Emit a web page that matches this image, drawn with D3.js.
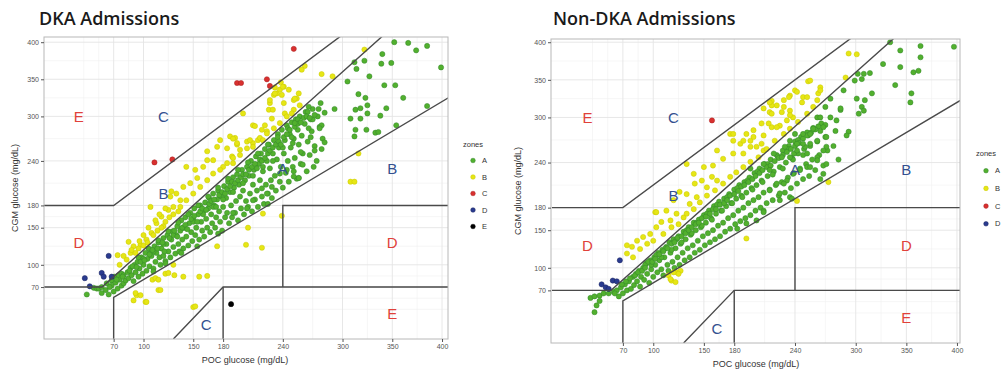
<!DOCTYPE html>
<html>
<head>
<meta charset="utf-8">
<script src="https://cdn.jsdelivr.net/npm/d3@7"></script>
<style>
body { margin: 0; background: #fff; }
svg { display: block; font-family: "Liberation Sans", Arial, sans-serif; }
</style>
</head>
<body>
<svg id="chart" width="1001" height="371"></svg>
<script>

// axis breaks (mg/dL), same for both panels
var tickVals = [70, 100, 150, 180, 240, 300, 350, 400];
var minorVals = [40, 55, 85, 125, 165, 210, 270, 325, 375];

var zoneNames = ["A", "B", "C", "D", "E"];
var zoneColors = {A: "#52b02e", B: "#e6e615", C: "#d8302f", D: "#2a3b8f", E: "#000000"};
var zoneStroke = {A: "#33862a", B: "#c8c800", C: "#a82020", D: "#1a2560", E: "#000000"};

// Clarke error grid boundaries [POC, CGM]
var gridLines = [
    [[0, 180], [70, 180], [310, 420]],
    [[0, 70], [58.3, 70], [350, 420]],
    [[70, 0], [70, 56], [420, 336]],
    [[130, 0], [180, 70], [420, 70]],
    [[180, 0], [180, 70]],
    [[240, 70], [240, 180], [420, 180]]
];

var zoneLabels = [
    {t: "E", x: 35, y: 300, c: "#e0413a"},
    {t: "C", x: 120, y: 300, c: "#34508f"},
    {t: "B", x: 120, y: 196, c: "#34508f"},
    {t: "A", x: 240, y: 230, c: "#34508f"},
    {t: "B", x: 350, y: 230, c: "#34508f"},
    {t: "D", x: 35, y: 130, c: "#e0413a"},
    {t: "D", x: 350, y: 130, c: "#e0413a"},
    {t: "E", x: 350, y: 34, c: "#e0413a"},
    {t: "C", x: 163, y: 19, c: "#34508f"}
];

// ---------- DKA admissions ----------
var dkaA = [
    [43,60],[50,69],[53,68],[55,68],[58,70],[63,75],[68,79],[71,84],[75,86],[78,88],
    [58,62],[62,66],[65,60],[68,72],[70,64],[72,76],[74,68],[76,80],[78,72],[80,86],[80,75],[82,79],
    [84,90],[85,82],[87,96],[88,86],[90,78],[91,100],[92,90],[94,104],[95,84],[96,95],[98,110],[99,88],[100,100],
    [102,116],[103,92],[104,108],[106,98],[107,120],[108,112],[110,95],[111,125],[112,104],[113,116],[115,130],[116,110],[117,100],[118,122],[120,136],[120,112],
    [122,105],[123,128],[124,140],[125,118],[127,110],[128,134],[129,145],[130,124],[132,115],[133,140],[134,152],[135,128],[136,118],[137,146],[138,160],[139,134],[140,122],
    [141,150],[142,164],[143,138],[145,126],[146,156],[147,170],[148,144],[149,132],[150,162],[151,176],[152,140],[153,150],[155,168],[156,134],[157,180],[158,158],[159,146],[160,172],
    [161,138],[162,184],[163,162],[164,150],[165,176],[166,190],[167,144],[168,168],[169,156],[170,196],[171,180],[172,150],[173,164],[174,188],[175,200],[176,172],[177,158],[178,192],[179,146],[180,178],
    [181,206],[182,164],[183,190],[184,170],[185,212],[186,156],[187,198],[188,180],[189,164],[190,218],[191,204],[192,170],[193,186],[194,222],[195,160],[196,208],[197,192],[198,176],[199,228],[200,200],
    [201,168],[202,214],[203,186],[204,232],[205,178],[206,220],[207,196],[208,240],[209,172],[210,208],[211,228],[212,188],[213,246],[214,200],[215,178],[216,236],[217,214],[218,250],[219,192],[220,226],
    [221,182],[222,256],[223,208],[224,240],[225,196],[226,262],[227,230],[228,214],[229,190],[230,250],[231,268],[232,220],[233,200],[234,242],[235,276],[236,258],[237,212],[238,232],[239,282],[240,204],
    [241,250],[242,268],[243,224],[244,288],[245,240],[246,212],[247,276],[248,258],[249,292],[250,232],[251,270],[252,244],[253,296],[254,216],[255,282],[256,262],[257,300],[258,236],[259,274],[260,250],
    [262,290],[263,306],[264,226],[265,266],[267,248],[268,296],[269,280],[270,310],[272,260],[274,240],[275,300],[277,286],[278,318],[279,256],[280,270],
    [95,110],[105,122],[115,133],[125,145],[135,157],[145,168],[155,180],[165,192],[175,204],[185,216],[195,228],[205,238],[215,250],[225,262],[235,272],[245,284],[255,296],[265,306],
    [100,108],[110,118],[120,128],[130,140],[140,150],[150,158],[160,168],[170,178],[180,188],[190,198],[200,210],[210,220],[220,232],[230,240],[240,258],[250,264],
    [66,70],[73,80],[79,84],[86,92],[89,98],[93,97],[97,104],[101,106],[106,114],[109,120],[114,122],[119,130],[121,118],[126,136],[131,146],[134,138],
    [139,150],[142,154],[144,148],[148,162],[151,166],[154,158],[157,172],[159,176],[163,174],[166,182],[168,186],[171,188],[173,178],[176,194],[179,198],
    [182,196],[184,202],[187,206],[189,212],[192,210],[195,214],[198,218],[200,222],[203,222],[206,228],[209,232],[212,236],[214,230],[217,242],[219,240],
    [222,244],[225,250],[227,254],[230,258],[233,262],[236,266],[238,262],[241,272],[244,276],[247,282],[249,272],[252,286],[255,290],[258,292],[261,298],
    [264,300],[266,284],[270,296],[272,302],[276,310],
    [175,142],[154,125],[138,116],[122,102],[110,91],
    [244,228],[251,219],[256,217],[237,223],[229,205],[224,196],[219,203],[210,187],[204,176],[190,170],[225,182],
    [352,400],[366,399],[374,389],[385,395],[399,366],[340,384],[349,372],[339,371],[312,373],[314,364],[322,375],[327,354],[305,347],[342,342],[353,342],
    [316,330],[323,325],[361,325],[385,314],[344,311],[313,309],[318,311],[325,315],[318,297],[308,297],[338,301],[325,304],[292,310],[282,305],[279,288],
    [277,284],[267,298],[266,313],[313,282],[312,273],[324,282],[333,278],[336,279],[354,288],[268,272],[282,265],[272,254],[260,235],[271,232],[251,226],[256,217],[258,252],[252,291]
];
var dkaB = [
    [232,339],[241,340],[234,331],[239,329],[227,318],[241,318],[254,324],[226,309],[229,297],[242,304],[200,304],[210,288],[219,282],[224,280],[215,268],
    [204,266],[194,262],[187,273],[192,271],[197,255],[189,246],[184,257],[177,268],[174,259],[164,253],[170,241],[180,232],[164,241],[160,232],[152,228],
    [143,232],[154,217],[147,210],[140,205],[133,196],[127,192],[137,187],[130,178],[125,174],[118,165],[120,152],[113,156],[108,143],[103,134],[97,127],
    [90,125],[87,116],[83,107],[76,100],[107,178],[128,199],
    [137,178],[143,187],[150,196],[157,205],[164,214],[170,223],[177,228],[184,237],[190,244],[197,248],[204,257],[210,264],[217,271],[224,277],[231,284],
    [237,291],[244,300],[251,309],[257,315],[251,322],[256,331],[238,346],[246,336],[231,329],
    [92,116],[95,122],[100,126],[104,130],[110,140],[114,146],[118,150],[122,158],[126,164],[130,168],[135,172],[100,140],[105,150],[112,160],[116,168],
    [122,176],[96,132],[88,120],[80,112],
    [212,287],[222,288],[227,322],[230,309],[232,331],[237,336],[240,340],[252,324],[249,304],[190,270],[194,264],[207,268],[210,259],[220,268],[190,237],
    [322,390],[262,368],[259,363],[279,357],[290,354],[316,250],[308,212],[312,212],
    [74,113],[85,131],[90,52],[102,50],[93,59],[109,80],[115,66],[122,88],[130,100],[156,84],[164,85],[150,43],[174,125],[220,169],[239,166],
    [205,150],[203,127],[219,123],[140,84],[125,89],[131,86],[117,66],[92,62],[97,59],[103,50],[152,44],[112,82],[115,80]
];
var dkaC = [[111,238],[129,242],[194,345],[198,345],[224,350],[227,341],[251,391]];
var dkaD = [[41,82],[46,71],[58,89],[60,84],[65,112],[68,84]];
var dkaE = [[188,47]];

// ---------- Non-DKA admissions ----------
var nonA = [
    [38,60],[42,62],[47,63],[44,50],[42,41],[51,66],[56,66],[61,68],[47,56],
    [64,70],[66,62],[68,74],[70,66],[72,78],[74,70],[76,82],[78,72],[80,88],[81,77],[83,92],[84,82],[86,96],[87,75],[88,88],[90,100],[91,84],[93,106],[94,92],
    [96,80],[97,110],[98,98],[100,88],[101,114],[102,104],[104,94],[105,120],[106,110],[108,98],[109,124],[110,90],[111,114],[113,128],[114,104],[115,96],
    [116,134],[117,120],[119,108],[120,138],[121,100],[122,126],[124,114],[125,142],[126,104],[127,132],[129,120],[130,148],[131,110],[132,138],[134,126],
    [135,154],[136,114],[137,144],[139,130],[140,160],[141,120],[142,150],[144,136],[145,164],[146,124],[147,154],[149,142],[150,170],[151,130],[152,160],
    [154,146],[155,176],[156,134],[157,166],[159,150],[160,182],[161,138],[162,172],[164,156],[165,188],[166,142],[167,176],[169,160],[170,192],[171,148],
    [172,182],[174,166],[175,198],[176,152],[177,186],[179,170],[180,204],[181,158],[182,192],[184,176],[185,210],[186,162],[187,196],[189,180],[190,214],
    [191,166],[192,200],[194,186],[195,220],[196,170],[197,206],[199,190],[200,226],[201,176],[202,210],[204,194],[205,232],[206,180],[207,216],[209,200],
    [210,238],[212,186],[213,222],[215,204],[216,244],[218,190],[219,228],[221,210],[222,250],[224,196],[225,234],[227,214],[228,256],[230,200],[231,240],
    [233,220],[234,262],[236,206],[237,246],[239,226],[240,268],[242,212],[243,252],[245,232],[246,274],[248,218],[249,258],[251,238],[252,280],[254,222],
    [255,262],[257,244],[258,286],[260,230],[262,268],[264,250],[266,292],[268,236],[270,274],[272,256],[275,300],[278,262],[280,282],[283,244],[285,310],
    [92,104],[103,117],[112,126],[123,138],[133,150],[143,160],[153,172],[163,184],[173,194],[183,206],[193,216],[203,228],[213,238],[223,248],[233,258],
    [243,270],[253,276],[263,288],
    [98,104],[108,114],[118,124],[128,134],[138,146],[148,156],[158,164],[168,176],[178,186],[188,194],[198,204],[208,214],[218,224],[228,232],[238,244],[248,250],
    [62,66],[69,78],[73,82],[77,86],[82,90],[85,94],[89,96],[92,100],[95,108],[99,108],[102,112],[106,118],[110,122],[114,126],[118,132],[121,134],
    [124,140],[128,142],[132,146],[135,150],[138,154],[142,158],[145,160],[148,166],[152,168],[156,172],[159,178],[162,178],[166,184],[170,186],[173,190],
    [176,196],[180,198],[184,202],[187,208],[190,210],[194,214],[198,218],[201,222],[205,226],[208,230],[212,234],[216,236],[220,242],[224,246],[228,250],
    [232,254],[236,258],[240,262],[244,266],[248,272],[252,276],[256,280],[260,284],[265,282],[270,290],
    [334,400],[344,389],[364,395],[364,380],[397,394],[327,371],[344,367],[357,360],[362,362],[302,358],[308,358],[314,359],[299,349],[306,351],[339,343],
    [355,332],[354,320],[316,332],[288,336],[301,325],[309,323],[306,314],[303,305],[308,309],[285,312],[275,325],[270,314],[281,296],[293,281],[291,276],
    [271,274],[262,300],[258,285],[248,278],[255,265],[250,261],[240,278],[242,265],[271,261],[271,238],[262,247],[252,234],[230,261],[235,269],[219,252],
    [227,247],[239,252],[215,230],[209,238],[265,218],[196,232],
    [265,300],[268,287],[255,278],[262,269],[248,265],[242,256],[235,247],[252,252],[268,256],[262,243],[255,234],[268,225],[245,230],[238,225],[232,216],
    [222,212],[215,203],[209,176],[225,190],[235,194],[209,174],[202,163],[192,159],[183,152],[229,212],[237,192],[225,199]
];
var nonB = [
    [253,348],[265,340],[263,332],[248,327],[240,336],[235,329],[229,323],[222,316],[217,322],[209,312],[215,307],[227,307],[235,309],[238,300],[232,296],
    [225,289],[217,287],[207,292],[199,283],[192,278],[209,276],[196,269],[186,265],[179,269],[176,278],[202,261],[209,256],[189,252],[179,252],[163,256],
    [169,245],[159,236],[150,234],[140,225],[133,238],[141,212],[148,216],[153,207],[158,221],[163,216],[133,198],[126,201],[136,185],[143,194],[120,190],
    [113,176],[123,172],[130,167],[117,163],[108,161],[103,154],[102,174],[97,145],[90,141],[84,136],[79,128],[74,119],[80,114],[87,125],[94,132],
    [100,136],[110,145],[118,154],[125,158],[133,172],[140,178],[146,187],[153,196],[161,203],[169,212],[176,221],[182,227],[189,234],[196,241],[204,247],
    [212,258],[220,269],[229,278],[235,285],[243,294],[252,305],[258,314],[217,316],
    [293,385],[301,384],[290,353],[255,349],[242,334],[234,327],[252,327],[262,323],[247,320],[265,336],[215,320],[229,314],[217,305],[235,303],[214,292],
    [222,287],[179,278],[189,269],[196,261],[207,265],[199,274],
    [115,90],[118,83],[123,94],[127,96],[117,85],[122,81],[125,92],[120,94],[192,139],[242,189],[273,214],[103,174],[74,130]
];
var nonC = [[158,296]];
var nonD = [[67,110],[49,78],[53,74],[60,83],[64,82],[56,72]];

var panels = [
    {id: "dka", title: "DKA Admissions", titleX: 39, titleY: 25,
     left: 44, right: 448, top: 37, bottom: 339, xDomain: [0, 406], yDomain: [0, 407],
     pts: {A: dkaA, B: dkaB, C: dkaC, D: dkaD, E: dkaE},
     xTitleY: 360, xTitleX: 245, yTitleX: 15,
     legend: {x: 463, y: 144, step: 16.5, zones: ["A", "B", "C", "D", "E"]}},
    {id: "non", title: "Non-DKA Admissions", titleX: 553, titleY: 25,
     left: 551, right: 960, top: 39, bottom: 343, xDomain: [-1, 403], yDomain: [0, 404.3],
     pts: {A: nonA, B: nonB, C: nonC, D: nonD},
     xTitleY: 364, xTitleX: 756, yTitleX: 518,
     legend: {x: 976, y: 153, step: 17.7, zones: ["A", "B", "C", "D"]}}
];

var svg = d3.select("#chart");
var defs = svg.append("defs");

panels.forEach(function(p) {
    var x = d3.scaleLinear().domain(p.xDomain).range([p.left, p.right]);
    var y = d3.scaleLinear().domain(p.yDomain).range([p.bottom, p.top]);

    defs.append("clipPath").attr("id", "clip-" + p.id)
        .append("rect")
        .attr("x", p.left).attr("y", p.top)
        .attr("width", p.right - p.left).attr("height", p.bottom - p.top);

    var g = svg.append("g");

    // grid
    var grid = g.append("g").attr("clip-path", "url(#clip-" + p.id + ")");
    grid.selectAll(".vmin").data(minorVals).enter().append("line")
        .attr("x1", function(d) { return x(d); }).attr("x2", function(d) { return x(d); })
        .attr("y1", p.top).attr("y2", p.bottom)
        .attr("stroke", "#f0f0f0").attr("stroke-width", 0.6);
    grid.selectAll(".hmin").data(minorVals).enter().append("line")
        .attr("y1", function(d) { return y(d); }).attr("y2", function(d) { return y(d); })
        .attr("x1", p.left).attr("x2", p.right)
        .attr("stroke", "#f0f0f0").attr("stroke-width", 0.6);
    grid.selectAll(".vmaj").data(tickVals).enter().append("line")
        .attr("x1", function(d) { return x(d); }).attr("x2", function(d) { return x(d); })
        .attr("y1", p.top).attr("y2", p.bottom)
        .attr("stroke", "#e4e4e4").attr("stroke-width", 0.9);
    grid.selectAll(".hmaj").data(tickVals).enter().append("line")
        .attr("y1", function(d) { return y(d); }).attr("y2", function(d) { return y(d); })
        .attr("x1", p.left).attr("x2", p.right)
        .attr("stroke", "#e4e4e4").attr("stroke-width", 0.9);

    // points
    var plot = g.append("g").attr("clip-path", "url(#clip-" + p.id + ")");
    zoneNames.forEach(function(z) {
        if (!p.pts[z]) return;
        plot.selectAll(".pt" + z).data(p.pts[z]).enter().append("circle")
            .attr("cx", function(d) { return x(d[0]); })
            .attr("cy", function(d) { return y(d[1]); })
            .attr("r", 2.6)
            .attr("fill", zoneColors[z])
            .attr("stroke", zoneStroke[z])
            .attr("stroke-width", 0.5);
    });

    // zone boundaries
    var line = d3.line().x(function(d) { return x(d[0]); }).y(function(d) { return y(d[1]); });
    plot.selectAll(".zl").data(gridLines).enter().append("path")
        .attr("d", line)
        .attr("fill", "none")
        .attr("stroke", "#4a4a4a")
        .attr("stroke-width", 1.4);

    // zone letters
    g.selectAll(".zlab").data(zoneLabels).enter().append("text")
        .attr("x", function(d) { return x(d.x); })
        .attr("y", function(d) { return y(d.y); })
        .attr("dy", "0.36em")
        .attr("text-anchor", "middle")
        .style("font-size", "15px")
        .attr("fill", function(d) { return d.c; })
        .text(function(d) { return d.t; });

    // border
    g.append("rect")
        .attr("x", p.left).attr("y", p.top)
        .attr("width", p.right - p.left).attr("height", p.bottom - p.top)
        .attr("fill", "none").attr("stroke", "#b8b8b8").attr("stroke-width", 1);

    // axes
    var xAxis = g.append("g")
        .attr("transform", "translate(0," + p.bottom + ")")
        .call(d3.axisBottom(x).tickValues(tickVals).tickSize(3).tickPadding(2));
    var yAxis = g.append("g")
        .attr("transform", "translate(" + p.left + ",0)")
        .call(d3.axisLeft(y).tickValues(tickVals).tickSize(3).tickPadding(2));
    [xAxis, yAxis].forEach(function(a) {
        a.select(".domain").remove();
        a.selectAll(".tick line").attr("stroke", "#555");
        a.selectAll(".tick text").attr("fill", "#555").style("font-size", "7px")
            .style("font-family", "'Liberation Sans', Arial, sans-serif");
    });

    // axis titles
    svg.append("text")
        .attr("x", p.xTitleX).attr("y", p.xTitleY)
        .attr("dy", "0.35em")
        .attr("text-anchor", "middle")
        .style("font-size", "9px")
        .attr("fill", "#333")
        .text("POC glucose (mg/dL)");
    svg.append("text")
        .attr("transform", "translate(" + p.yTitleX + "," + ((p.top + p.bottom) / 2) + ") rotate(-90)")
        .attr("dy", "0.35em")
        .attr("text-anchor", "middle")
        .style("font-size", "9px")
        .attr("fill", "#333")
        .text("CGM glucose (mg/dL)");

    // title
    svg.append("text")
        .attr("x", p.titleX).attr("y", p.titleY)
        .style("font-family", "'Open Sans', sans-serif")
        .style("font-size", "18px")
        .style("font-weight", 600)
        .attr("fill", "#1a1a1a")
        .text(p.title);

    // legend
    var lg = svg.append("g").attr("transform", "translate(" + p.legend.x + "," + p.legend.y + ")");
    lg.append("text").attr("x", 0).attr("y", 0).attr("dy", "0.35em")
        .style("font-size", "7.5px").attr("fill", "#333").text("zones");
    var item = lg.selectAll(".li").data(p.legend.zones).enter().append("g")
        .attr("transform", function(d, i) { return "translate(0," + ((i + 1) * p.legend.step) + ")"; });
    item.append("circle").attr("cx", 10).attr("cy", 0).attr("r", 2.3)
        .attr("fill", function(d) { return zoneColors[d]; })
        .attr("stroke", function(d) { return zoneStroke[d]; })
        .attr("stroke-width", 0.5);
    item.append("text").attr("x", 19).attr("y", 0).attr("dy", "0.35em")
        .style("font-size", "7.5px").attr("fill", "#333")
        .text(function(d) { return d; });
});
</script>
</body>
</html>
